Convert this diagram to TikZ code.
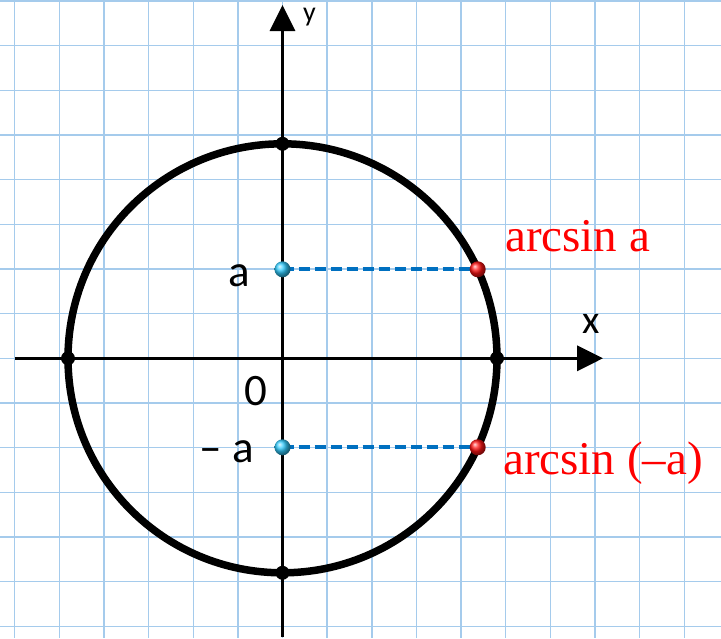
\documentclass[tikz,border=0pt]{standalone}
\usepackage{fontspec}
\setmainfont{Carlito}
\newfontfamily\timesf{Liberation Serif}
\usetikzlibrary{arrows.meta}
\definecolor{gridblue}{RGB}{165,203,236}
\definecolor{dashblue}{RGB}{0,112,192}
\definecolor{ballblue}{RGB}{50,205,255}
\definecolor{ballred}{RGB}{255,20,20}
\begin{document}
\begin{tikzpicture}[x=1pt,y=-1pt,
  gridline/.style={gridblue,line width=1.4pt},
  axis/.style={line width=3.5pt,-{Triangle[length=26pt,width=25pt]}},
  unitcircle/.style={line width=7.5pt},
  projline/.style={dashblue,line width=4pt,dash pattern=on 11pt off 5pt},
  blackdot/.style={circle,fill=black,inner sep=0pt,minimum size=14pt},
  bluedot/.style={circle,inner sep=0pt,minimum size=16pt,shading=ball,ball color=ballblue},
  reddot/.style={circle,inner sep=0pt,minimum size=16pt,shading=ball,ball color=ballred},
  lbl/.style={font=\fontsize{45}{45}\selectfont,inner sep=0pt},
  redlbl/.style={font=\timesf\fontsize{47}{47}\selectfont,text=red,inner sep=0pt}]
\useasboundingbox (0,0) rectangle (721,638);
\fill[white] (0,0) rectangle (721,638);
\foreach \i in {0,...,15} \draw[gridline] ({14.6+44.65*\i},0) -- ({14.6+44.65*\i},638);
\foreach \j in {0,...,14} \draw[gridline] (0,{1.1+44.65*\j}) -- (721,{1.1+44.65*\j});
\coordinate (O) at (282.5,358.3);
\coordinate (xs) at (15,358.3);
\coordinate (xe) at (603,358.3);
\coordinate (ys) at (282.5,637);
\coordinate (ye) at (282.5,5);
\draw[axis] (xs) -- (xe);
\draw[axis] (ys) -- (ye);
\draw[unitcircle] (O) circle (214.5);
\node[blackdot] (R) at (497,358.3) {};
\node[blackdot] (L) at (68,358.3) {};
\node[blackdot] (T) at (282.5,143.8) {};
\node[blackdot] (B) at (282.5,572.8) {};
\coordinate (a1) at (282.5,269.3);
\coordinate (a2) at (282.5,447.3);
\coordinate (p1) at (477.7,269.3);
\coordinate (p2) at (477.7,447.3);
\draw[projline] (a1) -- (p1);
\draw[projline] (a2) -- (p2);
\node[bluedot] (A1) at (a1) {};
\node[bluedot] (A2) at (a2) {};
\node[reddot] (P1) at (p1) {};
\node[reddot] (P2) at (p2) {};
\node[lbl,anchor=base east] (la) at (250,286) {a};
\node[lbl,anchor=base east] (lma) at (254,462) {– a};
\node[lbl,anchor=base] (l0) at (256,405.5) {0};
\node[font=\fontsize{28}{28}\selectfont,inner sep=0pt,anchor=base west] (ly) at (303,21) {y};
\node[font=\fontsize{40}{40}\selectfont,inner sep=0pt,anchor=base west] (lx) at (582,333) {x};
\node[redlbl,anchor=base west] (r1) at (505,251.7) {arcsin a};
\node[redlbl,anchor=base west] (r2) at (503,474) {arcsin (–a)};
\end{tikzpicture}
\end{document}
